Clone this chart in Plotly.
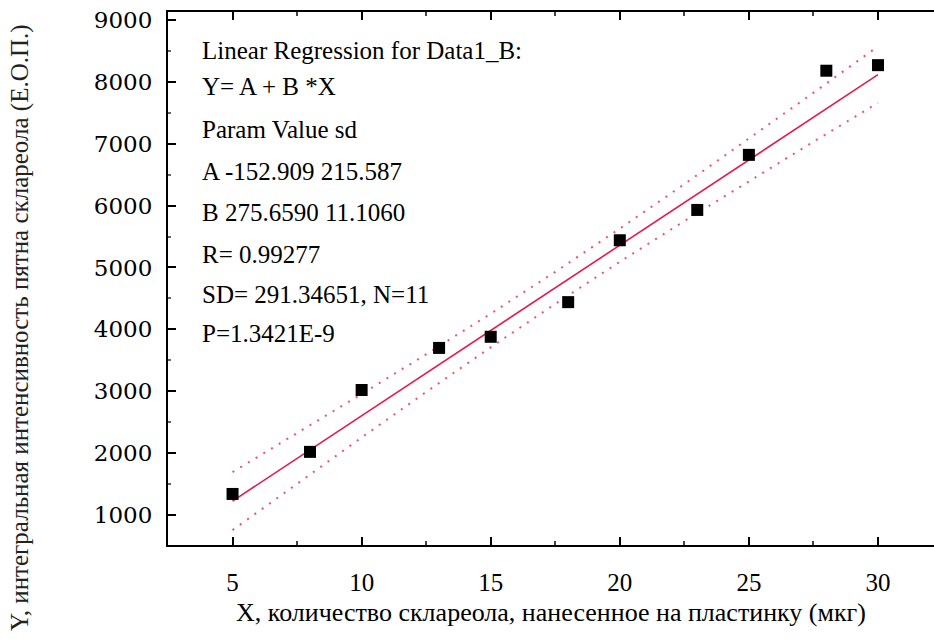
import plotly.graph_objects as go

# ---- data ----
x_data = [5, 8, 10, 13, 15, 18, 20, 23, 25, 28, 30]
y_data = [1340, 2020, 3020, 3700, 3880, 4440, 5440, 5930, 6820, 8180, 8270]

fit_x = [5, 30]
fit_y = [1225, 8117]

band_x = [5, 7.5, 10, 12.5, 15, 17.5, 20, 22.5, 25, 27.5, 30]
band_upper = [1694, 2322, 2955, 3598, 4254, 4930, 5628, 6347, 7081, 7824, 8574]
band_lower = [756, 1508, 2253, 2988, 3710, 4412, 5092, 5751, 6397, 7032, 7660]

x_ticks = [5, 10, 15, 20, 25, 30]
y_ticks = [1000, 2000, 3000, 4000, 5000, 6000, 7000, 8000, 9000]

stats_lines = [
    "Linear Regression for Data1_B:",
    "Y= A + B *X",
    "Param Value sd",
    "A -152.909 215.587",
    "B 275.6590 11.1060",
    "R= 0.99277",
    "SD= 291.34651, N=11",
    "P=1.3421E-9",
]

x_title = "X, количество склареола, нанесенное на пластинку (мкг)"
y_title = "Y, интегральная интенсивность пятна склареола (Е.О.П.)"

# ---- figure ----
W, H = 934, 643
ML, MR, MT, MB = 168, 0, 12, 98
SERIF = "Liberation Serif"
SERIF2 = "DejaVu Serif"
red = "#e8194a"
band_col = "rgba(232,40,80,0.8)"

fig = go.Figure()
fig.add_trace(go.Scatter(x=band_x, y=band_upper, mode="lines",
                         line=dict(color=band_col, width=2, dash="2px,7px"),
                         hoverinfo="skip", showlegend=False))
fig.add_trace(go.Scatter(x=band_x, y=band_lower, mode="lines",
                         line=dict(color=band_col, width=2, dash="2px,7px"),
                         hoverinfo="skip", showlegend=False))
fig.add_trace(go.Scatter(x=fit_x, y=fit_y, mode="lines",
                         line=dict(color=red, width=1.6), showlegend=False))
fig.add_trace(go.Scatter(x=x_data, y=y_data, mode="markers",
                         marker=dict(symbol="square", size=12, color="black"),
                         showlegend=False))

pw = W - ML - MR
ph = H - MT - MB
line_px = [50, 87, 129, 171, 212, 254, 294, 334]
for txt, py in zip(stats_lines, line_px):
    fig.add_annotation(
        x=(200 - ML) / pw, y=(H - MB - py) / ph, xref="paper", yref="paper",
        text=txt, showarrow=False, xanchor="left", yanchor="middle",
        font=dict(family=SERIF, size=25, color="black"))

fig.add_annotation(
    x=(20 - ML) / pw, y=(H - MB - 328) / ph, xref="paper", yref="paper",
    text=y_title, showarrow=False, textangle=-90, xanchor="center", yanchor="middle",
    font=dict(family=SERIF, size=25, color="#222"))

fig.update_layout(
    width=W, height=H,
    margin=dict(l=ML, r=MR, t=MT, b=MB),
    paper_bgcolor="white", plot_bgcolor="white",
    xaxis=dict(
        range=[2.5, 32.17], tickmode="array", tickvals=x_ticks,
        ticks="inside", ticklen=8, tickwidth=2, tickcolor="black",
        minor=dict(ticks="inside", ticklen=4, tickwidth=2, tickcolor="#444", dtick=2.5, tick0=2.5),
        showline=True, linecolor="black", linewidth=2, mirror="ticks",
        showgrid=False, zeroline=False, ticklabelstandoff=14,
        tickfont=dict(family=SERIF, size=25, color="black"),
        title=dict(text=x_title, font=dict(family=SERIF, size=26, color="black"), standoff=8),
    ),
    yaxis=dict(
        range=[515, 9129], tickmode="array", tickvals=y_ticks,
        ticks="inside", ticklen=8, tickwidth=2, tickcolor="black",
        minor=dict(ticks="inside", ticklen=3, tickwidth=2, tickcolor="#666", dtick=500, tick0=500),
        showline=True, linecolor="black", linewidth=2, mirror=False,
        showgrid=False, zeroline=False, ticklabelstandoff=9,
        tickfont=dict(family=SERIF2, size=23, color="black"),
    ),
)

fig.write_html("out.html")
